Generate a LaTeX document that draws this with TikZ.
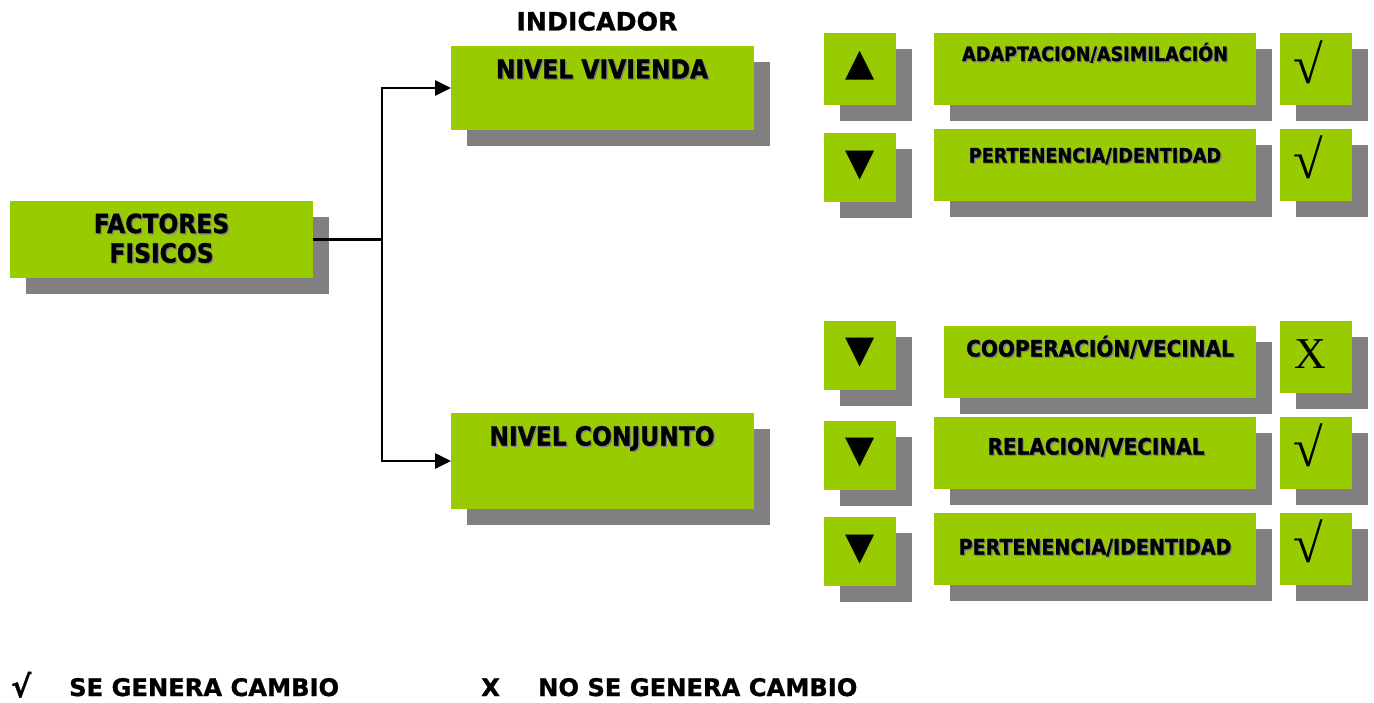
\documentclass[tikz,border=0pt]{standalone}
\usepackage{fontspec}
\setmainfont{DejaVu Sans}
\newfontfamily\vsq{DejaVu Sans}[FakeStretch=0.89, BoldFeatures={FakeBold=1}]
\newfontfamily\vfull{DejaVu Sans}[BoldFeatures={FakeBold=1}]
\newfontfamily\tms{Liberation Serif}
\usetikzlibrary{shadows,arrows.meta}
\definecolor{boxgreen}{HTML}{99CC00}
\definecolor{shadowgray}{HTML}{808080}
\newcommand\shtxt[1]{\makebox[0pt][l]{\hspace{1.3bp}\raisebox{-1.3bp}{\textcolor{shadowgray}{#1}}}#1}
\newcommand\fsz[1]{\fontsize{#1bp}{#1bp}\selectfont}
\begin{document}
\begin{tikzpicture}[x=1bp,y=-1bp,
  box/.style={rectangle, fill=boxgreen, draw=none, inner sep=0pt, outer sep=0pt, anchor=north west,
    drop shadow={shadow xshift=16bp, shadow yshift=-16bp, fill=shadowgray, opacity=1}},
  lbl/.style={anchor=base, inner sep=0pt, outer sep=0pt},
  sym/.style={anchor=center, inner sep=0pt, outer sep=0pt},
  big/.style={font=\vsq\bfseries\fsz{26.3}},
  small/.style={font=\vsq\bfseries\fsz{19.8}},
  mid/.style={font=\vsq\bfseries\fsz{22.5}},
  tri/.style={sym, font=\vfull\fsz{38}},
  chk/.style={sym, font=\tms\fsz{54}},
  legend/.style={anchor=base west, inner sep=0pt, font=\vfull\bfseries\fsz{24.2}},
  conn/.style={line width=2.6bp, draw=black},
  arr/.style={conn, -{Triangle[length=16bp,width=15bp]}}
]
\useasboundingbox (0,0) rectangle (1374,702);

% left column
\node[box, minimum width=303bp, minimum height=77bp] (fac) at (10,201) {};
\node[lbl, big] (facA) at (161.5,233) {\shtxt{FACTORES}};
\node[lbl, big] (facB) at (161.5,262.5) {\shtxt{FISICOS}};

% indicator header
\node[lbl, font=\vfull\bfseries\fsz{25.3}] (ind) at (597,30.5) {INDICADOR};

% middle column
\node[box, minimum width=303bp, minimum height=84bp] (viv) at (451,46) {};
\node[lbl, big] (vivT) at (602,78.5) {\shtxt{NIVEL VIVIENDA}};
\node[box, minimum width=303bp, minimum height=96bp] (con) at (451,413) {};
\node[lbl, big] (conT) at (602,445.5) {\shtxt{NIVEL CONJUNTO}};

% connectors
\coordinate (j) at (382,239.5);
\draw[conn] (fac.east) -- (j);
\draw[arr] (j) |- (viv.west);
\draw[arr] (j) |- (con.west);

% arrow squares
\node[box, minimum width=72bp, minimum height=72bp] (a1) at (824,33) {};
\node[box, minimum width=72bp, minimum height=69bp] (a2) at (824,133) {};
\node[box, minimum width=72bp, minimum height=69bp] (a3) at (824,321) {};
\node[box, minimum width=72bp, minimum height=69bp] (a4) at (824,421) {};
\node[box, minimum width=72bp, minimum height=69bp] (a5) at (824,517) {};
\node[tri] (a1s) at (860,65.5) {▲};
\node[tri] (a2s) at (860,165.5) {▼};
\node[tri] (a3s) at (860,353) {▼};
\node[tri] (a4s) at (860,453) {▼};
\node[tri] (a5s) at (860,549.3) {▼};

% text boxes
\node[box, minimum width=322bp, minimum height=72bp] (t1) at (934,33) {};
\node[box, minimum width=322bp, minimum height=72bp] (t2) at (934,129) {};
\node[box, minimum width=312bp, minimum height=72bp] (t3) at (944,326) {};
\node[box, minimum width=322bp, minimum height=72bp] (t4) at (934,417) {};
\node[box, minimum width=322bp, minimum height=72bp] (t5) at (934,513) {};
\node[lbl, small] (t1T) at (1095,61) {\shtxt{ADAPTACION/ASIMILACIÓN}};
\node[lbl, small] (t2T) at (1095,162.5) {\shtxt{PERTENENCIA/IDENTIDAD}};
\node[lbl, mid] (t3T) at (1100,356.5) {\shtxt{COOPERACIÓN/VECINAL}};
\node[lbl, mid] (t4T) at (1096,454.5) {\shtxt{RELACION/VECINAL}};
\node[lbl, font=\vsq\bfseries\fsz{21.4}] (t5T) at (1095,554.5) {\shtxt{PERTENENCIA/IDENTIDAD}};

% check boxes
\node[box, minimum width=72bp, minimum height=72bp] (c1) at (1280,33) {};
\node[box, minimum width=72bp, minimum height=72bp] (c2) at (1280,129) {};
\node[box, minimum width=72bp, minimum height=72bp] (c3) at (1280,321) {};
\node[box, minimum width=72bp, minimum height=72bp] (c4) at (1280,417) {};
\node[box, minimum width=72bp, minimum height=72bp] (c5) at (1280,513) {};
\node[chk] (c1s) at (1308,62.8) {√};
\node[chk] (c2s) at (1308,157.7) {√};
\node[sym, font=\tms\fsz{44}] (c3s) at (1310,354.5) {X};
\node[chk] (c4s) at (1308,445.7) {√};
\node[chk] (c5s) at (1308,541.8) {√};

% legend
\node[legend, font=\vfull\bfseries\fsz{30}] (l1) at (11,697) {√};
\node[legend] (l2) at (69,696) {SE GENERA CAMBIO};
\node[legend] (l3) at (481,696) {X};
\node[legend] (l4) at (538,696) {NO SE GENERA CAMBIO};
\end{tikzpicture}
\end{document}
